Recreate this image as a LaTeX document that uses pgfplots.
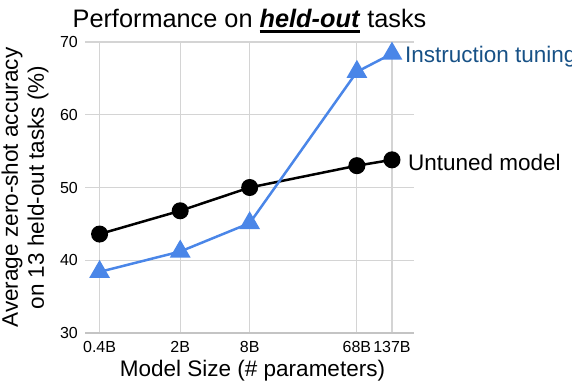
\documentclass[border=0pt]{standalone}
\usepackage{fontspec}
\setmainfont{Liberation Sans}
\usepackage{pgfplots}
\pgfplotsset{compat=1.18}
\definecolor{flanblue}{HTML}{4A86E8}
\definecolor{labelblue}{HTML}{175186}
\definecolor{gridgray}{HTML}{D4D4D4}
\definecolor{basegray}{HTML}{C4C4C4}
\newcommand\ul[1]{\setbox0\hbox{#1}\rlap{\rule[-5.5bp]{\wd0}{2.5bp}}\box0\relax}
\begin{document}
\begin{tikzpicture}[x=1bp,y=1bp]
\path[use as bounding box, clip] (0,0) rectangle (572,381);
\begin{axis}[
  at={(85bp,48bp)}, anchor=south west,
  scale only axis, width=329bp, height=291bp,
  xmode=log, xmin=0.299, xmax=212.6, ymin=30, ymax=70,
  xtick={0.4,2,8,68,137}, xticklabels={0.4B,2B,8B,68B,137B},
  ytick={30,40,50,60,70},
  axis line style={draw=none},
  tick style={draw=none},
  major tick length=0pt,
  grid=major,
  grid style={gridgray, line width=1.2bp},
  /pgf/number format/assume math mode=true,
  tick label style={font=\fontsize{16bp}{18bp}\selectfont},
  xticklabel style={anchor=base, inner sep=0pt, yshift=-19bp},
  yticklabel style={anchor=east, inner sep=0pt, xshift=-7bp},
  clip=false,
]
\draw[basegray, line width=1.6bp] (rel axis cs:0,0) -- (rel axis cs:1,0);
\addplot[black, line width=2.5bp, mark=*, mark size=7.5bp, mark options={fill=black, solid, line width=2bp}]
  coordinates {(0.4,43.6) (2,46.8) (8,50.0) (68,53.0) (137,53.8)};
\addplot[flanblue, line width=2.5bp, mark=triangle*, mark size=10bp, mark options={fill=flanblue, solid, line width=2bp}]
  coordinates {(0.4,38.4) (2,41.2) (8,45.1) (68,65.9) (137,68.4)};
\node[anchor=base west, inner sep=0pt, text=labelblue, font=\fontsize{22.5bp}{27bp}\selectfont, xshift=13bp, yshift=-9bp] at (axis cs:137,68.4) {Instruction tuning};
\node[anchor=base west, inner sep=0pt, text=black, font=\fontsize{22.5bp}{27bp}\selectfont, xshift=16bp, yshift=-10.7bp] at (axis cs:137,53.8) {Untuned model};
\end{axis}
\node[anchor=base, inner sep=0pt, font=\fontsize{25.3bp}{30bp}\selectfont] at (249.5,354) {Performance on \ul{\textbf{\textit{held-out}}} tasks};
\node[anchor=base, inner sep=0pt, font=\fontsize{22.5bp}{27bp}\selectfont] at (252.5,5) {Model Size (\# parameters)};
\node[rotate=90, align=center, inner sep=0pt, font=\fontsize{22.5bp}{26bp}\selectfont] at (25,193.5) {Average zero-shot accuracy\\on 13 held-out tasks (\%)};
\end{tikzpicture}
\end{document}
